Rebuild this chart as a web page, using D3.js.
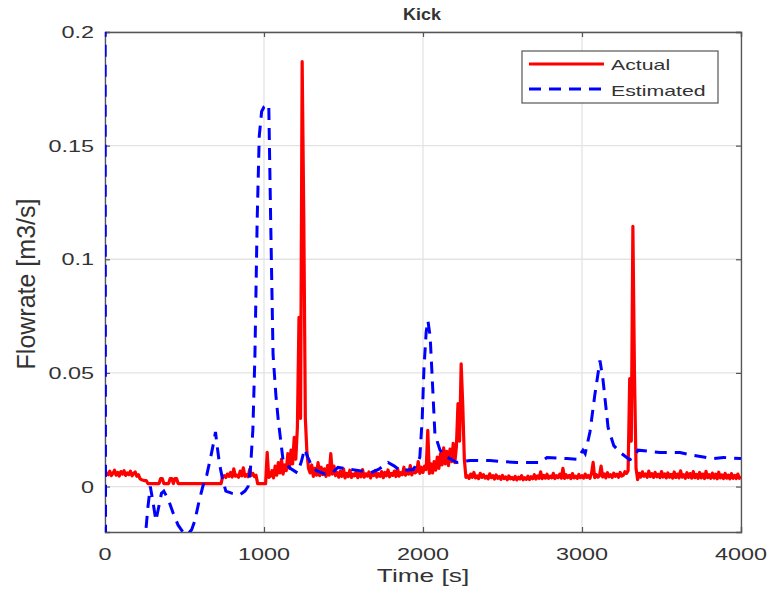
<!DOCTYPE html>
<html><head><meta charset="utf-8">
<script src="https://cdn.jsdelivr.net/npm/d3@7"></script>
<style>body{margin:0;background:#fff}svg{display:block}text{font-family:"Liberation Sans",Arial,sans-serif}</style>
</head><body><svg id="c" width="773" height="596"></svg>
<script>
// ---- data ----
const title = "Kick";
const xLabel = "Time [s]";
const yLabel = "Flowrate [m3/s]";
const seriesNames = ["Actual", "Estimated"];
const xTicks = [0, 1000, 2000, 3000, 4000];
const yTicks = [0, 0.05, 0.1, 0.15, 0.2];
const yTickLabels = ["0", "0.05", "0.1", "0.15", "0.2"];

// Actual: sampled every 10 s from 0 to 4000 s
const actualTime = d3.range(0, 4001, 10);
const actualValues = [
0.0045,0.006,0.0052,0.0068,0.0048,0.0058,0.0072,0.005,0.0062,0.0046,0.0066,0.0055,0.007,0.0049,0.006,0.0053,0.0068,0.0047,0.0057,0.0064,0.0045,0.0052,
0.0035,0.003,0.0028,0.0026,0.0026,
0.0013,0.0013,0.0013,0.0013,0.0013,0.0013,0.0013,0.0013,
0.0035,0.0035,
0.0013,0.0013,0.0013,0.0013,
0.0035,0.0035,
0.0013,
0.0035,0.0035,
0.0013,0.0013,0.0013,0.0013,0.0013,0.0013,0.0013,0.0013,0.0013,0.0013,0.0013,0.0013,0.0013,0.0013,0.0013,0.0013,0.0013,0.0013,0.0013,0.0013,0.0013,0.0013,0.0013,0.0013,0.0013,0.0013,0.0013,0.0013,
0.0044,0.0048,0.004,0.0055,0.0045,0.0062,0.0042,0.0078,0.0046,0.005,0.0041,0.0068,0.0047,0.0082,0.0045,0.0052,0.0043,0.0076,0.0049,0.0058,0.0044,0.005,
0.0013,0.0013,0.0013,0.0013,0.0013,0.0013,
0.015,0.004,
0.0045,0.007,0.0038,0.009,0.005,0.0105,0.006,0.012,0.0055,0.0095,0.007,
0.0145,0.008,0.016,0.01,0.0216,0.012,0.026,
0.0745,0.03,0.187,0.12,0.03,0.015,0.008,
0.006,0.0095,0.0045,0.008,0.005,0.0105,0.0048,0.0085,0.0052,0.0078,0.0045,0.0092,0.005,0.0145,0.0055,0.009,0.0048,
0.0062,0.0041,0.0068,0.0045,0.0078,0.0038,0.0058,0.0044,0.0072,0.004,
0.0055,0.0047,0.0066,0.0039,0.0061,0.0043,0.0075,0.0041,0.0056,0.0046,
0.0064,0.0038,0.0059,0.0048,0.0071,0.0042,0.0057,0.0045,0.0066,0.0039,
0.0062,0.0047,0.0073,0.0043,0.0058,0.0049,0.0068,0.0044,0.0079,0.0046,
0.0061,0.0052,0.0085,0.005,0.0072,0.0055,0.0092,0.0051,0.0078,0.006,
0.0065,0.011,0.0058,0.0085,0.0062,0.009,
0.0075,0.0247,
0.0058,0.01,0.006,0.011,0.0072,0.013,0.008,0.0145,0.0095,0.017,0.01,0.0155,0.0092,0.0165,0.011,0.019,0.0105,0.0175,
0.0365,0.02,0.054,0.036,0.012,0.004,
0.0048,0.0036,0.0055,0.0041,0.0062,0.0038,0.0047,0.0035,0.0058,0.004,
0.0052,0.0037,0.0045,0.0034,0.0056,0.0039,0.0048,0.0033,0.0051,0.0036,
0.0044,0.0032,0.0049,0.0035,0.0042,0.003,0.0047,0.0034,0.004,0.0031,
0.0045,0.0029,0.0041,0.0033,0.0048,0.003,0.0039,0.0032,0.0046,0.0031,
0.0043,0.0034,0.0052,0.0033,0.0047,0.0036,0.0065,0.0035,0.0049,0.0037,
0.0054,0.0036,0.0046,0.0038,0.0058,0.0035,0.0048,0.0039,0.0055,0.0037,
0.008,0.0036,0.0052,0.0039,0.0049,0.0035,0.0057,0.0038,0.0046,0.0036,
0.0053,0.0039,0.0048,
0.0037,0.0055,0.004,0.0049,0.0036,0.0058,0.0106,0.0039,0.0052,0.0041,
0.0047,0.009,0.0042,0.0056,0.0038,0.0061,0.0043,0.0052,0.004,0.0059,0.0045,0.0054,0.0041,0.0062,0.0046,
0.005,0.0065,0.0058,0.007,
0.0475,0.02,0.1145,0.05,0.008,0.003,
0.0058,0.0042,0.0065,0.0045,0.0055,0.0041,0.0068,0.0044,0.0057,0.004,
0.0062,0.0043,0.0054,0.0039,0.0066,0.0042,0.0056,0.0038,0.006,0.0041,
0.0053,0.0037,0.0064,0.004,0.0055,0.0038,0.0069,0.0041,0.0052,0.0036,
0.0061,0.004,0.0057,0.0037,0.0066,0.0039,0.0053,0.0036,0.0062,0.0038,
0.0055,0.0035,0.0067,0.0039,0.0052,0.0036,0.0059,0.0037,0.0054,0.0034,
0.0063,0.0038,0.0051,0.0035,0.0058,0.0037,0.005,0.0034,0.0057,0.0036,
0.0049,0.0035,0.0055,0.0036,0.0045
];

const estimatedTime = [0,4,100,200,240,256,270,285,300,320,335,355,370,400,430,460,490,520,545,565,590,615,640,665,685,695,705,720,740,760,800,850,880,900,915,930,943,957,970,985,1000,1030,1042,1057,1075,1090,1120,1165,1210,1235,1255,1275,1300,1330,1385,1430,1465,1500,1600,1670,1720,1780,1820,1855,1940,1980,1995,2006,2020,2031,2045,2055,2075,2107,2150,2212,2296,2420,2500,2590,2736,2780,2906,2969,3006,3020,3050,3080,3095,3113,3132,3164,3200,3240,3300,3330,3352,3490,3616,3700,3826,3890,4000];
const estimatedValues = [0.3,-0.1,-0.06,-0.04,-0.025,-0.02,-0.009,0.0,-0.006,-0.015,-0.01,-0.003,-0.002,-0.006,-0.012,-0.017,-0.02,-0.021,-0.019,-0.015,-0.007,0.0,0.005,0.013,0.02,0.024,0.018,0.01,0.003,-0.002,-0.003,-0.0035,-0.002,0.0,0.008,0.025,0.058,0.117,0.154,0.165,0.167,0.168,0.117,0.058,0.04,0.029,0.0115,0.008,0.006,0.011,0.0165,0.013,0.009,0.007,0.0055,0.006,0.0084,0.008,0.007,0.006,0.0075,0.0106,0.009,0.007,0.0075,0.0128,0.03,0.052,0.068,0.073,0.066,0.052,0.023,0.016,0.013,0.0106,0.0115,0.0115,0.011,0.0106,0.0106,0.0128,0.0123,0.012,0.016,0.0145,0.024,0.04,0.047,0.0555,0.047,0.026,0.018,0.015,0.0118,0.013,0.016,0.015,0.015,0.0137,0.0123,0.0128,0.0123];

// ---- layout ----
const L = 105, R = 741, T = 32, B = 532;
const SX = 1.42; // horizontal stretch of the reference text
const svg = d3.select("#c");
const x = d3.scaleLinear().domain([0, 4000]).range([L, R]);
const y = d3.scaleLinear().domain([-0.02, 0.2]).range([B, T]);
const axisCol = "#555", textCol = "#333";

function stext(g, px, py, str, size, anchor, weight, sx) {
  return g.append("text")
    .attr("transform", `translate(${px},${py}) scale(${sx || SX},1)`)
    .attr("text-anchor", anchor).attr("font-size", size)
    .attr("font-weight", weight || "normal").attr("fill", textCol).text(str);
}

// grid
const grid = svg.append("g");
grid.selectAll(".gx").data(xTicks).join("line")
  .attr("x1", d => x(d)).attr("x2", d => x(d)).attr("y1", T).attr("y2", B)
  .attr("stroke", "#e3e3e3").attr("stroke-width", 1.3);
grid.selectAll(".gy").data(yTicks).join("line")
  .attr("x1", L).attr("x2", R).attr("y1", d => y(d)).attr("y2", d => y(d))
  .attr("stroke", "#e3e3e3").attr("stroke-width", 1.3);

// axes via d3 axis (inward ticks)
const ax = svg.append("g");
const xAxisB = d3.axisBottom(x).tickValues(xTicks).tickSize(-5).tickFormat("");
const xAxisT = d3.axisTop(x).tickValues(xTicks).tickSize(-5).tickFormat("");
const yAxisL = d3.axisLeft(y).tickValues(yTicks).tickSize(-5).tickFormat("");
const yAxisR = d3.axisRight(y).tickValues(yTicks).tickSize(-5).tickFormat("");
[[xAxisB, `translate(0,${B})`], [xAxisT, `translate(0,${T})`], [yAxisL, `translate(${L},0)`], [yAxisR, `translate(${R},0)`]].forEach(([a, tr]) => {
  const g = ax.append("g").attr("transform", tr).call(a);
  g.select(".domain").attr("stroke", axisCol).attr("stroke-width", 1.3);
  g.selectAll(".tick line").attr("stroke", axisCol).attr("stroke-width", 1.2);
});

// tick labels
xTicks.forEach(t => stext(svg, x(t), 560, String(t), 16.5, "middle"));
yTicks.forEach((t, i) => stext(svg, 94, y(t) + 6, yTickLabels[i], 16.5, "end"));

// clip
svg.append("clipPath").attr("id", "clip").append("rect")
  .attr("x", L).attr("y", T).attr("width", R - L).attr("height", B - T);

const plot = svg.append("g").attr("clip-path", "url(#clip)");
const actual = actualTime.map((t, i) => [t, actualValues[i]]).filter(d => d[1] !== undefined);
const estimated = estimatedTime.map((t, i) => [t, estimatedValues[i]]);
const line = d3.line().x(d => x(d[0])).y(d => y(d[1]));
plot.append("path").datum(actual).attr("d", line)
  .attr("fill", "none").attr("stroke", "#ff0000").attr("stroke-width", 3.2).attr("stroke-linejoin", "round");
plot.append("path").datum(estimated).attr("d", line)
  .attr("fill", "none").attr("stroke", "#0000ff").attr("stroke-width", 3).attr("stroke-dasharray", "12,8");

// title & labels
stext(svg, 422, 20, title, 16, "middle", "bold", 1.12);
stext(svg, 423, 582, xLabel, 18.5, "middle");
svg.append("text")
  .attr("transform", `translate(35,284) rotate(-90) scale(1,1.0)`)
  .attr("text-anchor", "middle").attr("font-size", 25).attr("fill", textCol).text(yLabel);

// legend
const lg = svg.append("g");
lg.append("rect").attr("x", 522).attr("y", 51).attr("width", 196).attr("height", 52)
  .attr("fill", "#fff").attr("stroke", "#555").attr("stroke-width", 1.2);
lg.append("line").attr("x1", 529).attr("x2", 604).attr("y1", 64).attr("y2", 64)
  .attr("stroke", "#ff0000").attr("stroke-width", 2.8);
lg.append("line").attr("x1", 529).attr("x2", 604).attr("y1", 89).attr("y2", 89)
  .attr("stroke", "#0000ff").attr("stroke-width", 3).attr("stroke-dasharray", "12,8");
stext(lg, 611, 70, seriesNames[0], 15, "start");
stext(lg, 611, 96, seriesNames[1], 15, "start");
</script></body></html>
